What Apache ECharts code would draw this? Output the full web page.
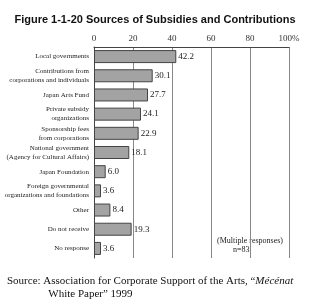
<!DOCTYPE html>
<html>
<head>
<meta charset="utf-8">
<script src="https://cdn.jsdelivr.net/npm/echarts@6/dist/echarts.min.js"></script>
<style>
html, body { margin: 0; padding: 0; background: #fff; }
#chart { width: 310px; height: 304px; }
</style>
</head>
<body>
<div id="chart"></div>
<script>
// categories, top to bottom
var categories = [
  'Local governments',
  'Contributions from\ncorporations and individuals',
  'Japan Arts Fund',
  'Private subsidy\norganizations',
  'Sponsorship fees\nfrom corporations',
  'National government\n(Agency for Cultural Affairs)',
  'Japan Foundation',
  'Foreign governmental\norganizations and foundations',
  'Other',
  'Do not receive',
  'No response'
]
var values = [42.2, 30.1, 27.7, 24.1, 22.9, 18.1, 6.0, 3.6, 8.4, 19.3, 3.6]
var tickLabels = ['0', '20', '40', '60', '80', '100%']

var serif = '"Liberation Serif", "DejaVu Serif", serif'

var chart = echarts.init(document.getElementById('chart'))
var option = {
  animation: false,
  backgroundColor: '#fff',
  title: {
    text: 'Figure 1-1-20 Sources of Subsidies and Contributions',
    left: 'center',
    top: 9,
    textStyle: {
      fontFamily: '"Liberation Sans", Arial, sans-serif',
      fontSize: 11,
      fontWeight: 'bold',
      color: '#111'
    }
  },
  grid: {
    left: 94,
    right: 21,
    top: 47,
    bottom: 46,
    containLabel: false,
    outerBoundsMode: 'none'
  },
  xAxis: {
    type: 'value',
    position: 'top',
    min: 0,
    max: 100,
    interval: 20,
    axisLine: { show: true, lineStyle: { color: '#444', width: 1 } },
    axisTick: { show: false },
    axisLabel: {
      margin: 4,
      fontFamily: serif,
      fontSize: 9,
      color: '#333',
      formatter: function (v) { return tickLabels[v / 20] }
    },
    splitLine: { show: true, lineStyle: { color: '#888', width: 1 } }
  },
  yAxis: {
    type: 'category',
    inverse: true,
    data: categories,
    axisLine: { show: true, lineStyle: { color: '#444' } },
    axisTick: { show: false },
    axisLabel: {
      margin: 5,
      fontFamily: serif,
      fontSize: 7,
      lineHeight: 9,
      color: '#222',
      align: 'right'
    }
  },
  series: [
    {
      type: 'bar',
      data: values,
      barWidth: 13,
      itemStyle: {
        color: '#a3a3a3',
        borderColor: '#444',
        borderWidth: 1
      },
      label: {
        show: true,
        position: 'right',
        distance: 2,
        fontFamily: serif,
        fontSize: 9,
        color: '#222',
        formatter: function (p) { return p.value.toFixed(1) }
      }
    }
  ],
  graphic: [
    {
      type: 'text',
      left: 217,
      top: 236,
      style: {
        text: '(Multiple responses)\n        n=83',
        font: '8px ' + serif,
        fill: '#222',
        lineHeight: 9
      }
    },
    {
      type: 'text',
      left: 7,
      top: 275,
      style: {
        text: 'Source: Association for Corporate Support of the Arts, \u201c{i|M\u00e9c\u00e9nat}\n               White Paper\u201d 1999',
        font: '11px ' + serif,
        fill: '#111',
        lineHeight: 13,
        rich: {
          i: { fontStyle: 'italic', fontFamily: serif, fontSize: 11 }
        }
      }
    }
  ]
}
chart.setOption(option)
</script>
</body>
</html>
